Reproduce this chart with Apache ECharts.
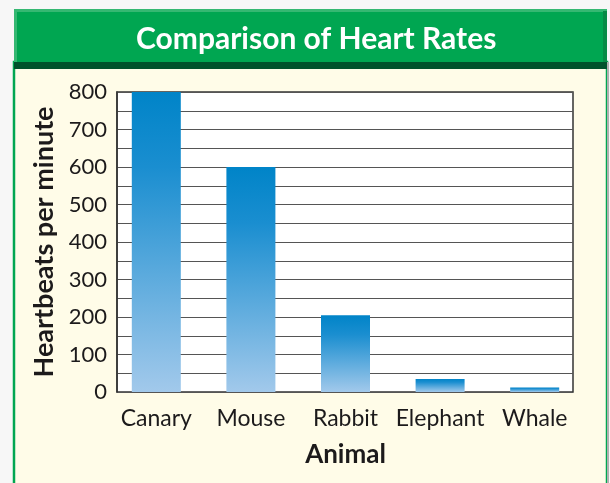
<!DOCTYPE html>
<html>
<head>
<meta charset="utf-8">
<script src="https://cdn.jsdelivr.net/npm/echarts@6/dist/echarts.min.js"></script>
<style>
  html, body { margin: 0; padding: 0; background: #f7f7f7; }
  #chart { width: 610px; height: 483px; }
</style>
</head>
<body>
<div id="chart"></div>
<script>
// chart data
const animals = ['Canary', 'Mouse', 'Rabbit', 'Elephant', 'Whale'];
const heartRates = [800, 600, 205, 35, 12];
const yTicks = [0, 100, 200, 300, 400, 500, 600, 700, 800];

const chart = echarts.init(document.getElementById('chart'));
const font = 'Lato, "Open Sans", sans-serif';
const ink = '#1c1a1b';

// bar fill: dark blue on top fading to light blue at the base
const barFill = new echarts.graphic.LinearGradient(0, 0, 0, 1, [
    { offset: 0, color: '#0084c8' },
    { offset: 0.25, color: '#1a8ed0' },
    { offset: 1, color: '#a2c9eb' }
]);

const option = {
    animation: false,
    backgroundColor: '#f7f7f7',
    title: {
        text: 'Comparison of Heart Rates',
        left: 131,
        top: 19,
        textStyle: { color: '#fff', fontFamily: font, fontWeight: 'bold', fontSize: 30 }
    },
    graphic: [
        // panel body
        { type: 'rect', shape: { x: 14, y: 62, width: 593, height: 430 }, style: { fill: '#fffce8', stroke: '#00a651', lineWidth: 2.5 }, z: -10 },
        { type: 'rect', shape: { x: 607, y: 62, width: 2, height: 430 }, style: { fill: '#b0b0b0' }, z: -10 },
        // header bar
        { type: 'rect', shape: { x: 14, y: 9, width: 593, height: 54 }, style: { fill: '#00a651' }, z: -9 },
        { type: 'rect', shape: { x: 14, y: 9, width: 593, height: 3 }, style: { fill: '#35b872' }, z: -8 },
        { type: 'rect', shape: { x: 14, y: 9, width: 3, height: 54 }, style: { fill: '#35b872' }, z: -8 },
        { type: 'rect', shape: { x: 603, y: 11, width: 4, height: 52 }, style: { fill: '#078a45' }, z: -8 },
        { type: 'rect', shape: { x: 14, y: 62, width: 593, height: 7 }, style: { fill: '#00522b' }, z: -8 }
    ],
    grid: [
        { left: 117, top: 92, width: 456, height: 300, show: true, backgroundColor: '#fff', borderColor: '#333', borderWidth: 1.5 },
        { left: 109, top: 92, width: 473, height: 300 }
    ],
    xAxis: [
        { gridIndex: 0, type: 'category', data: animals, show: false },
        {
            gridIndex: 1,
            type: 'category',
            data: animals,
            axisLine: { show: false },
            axisTick: { show: false },
            axisLabel: { interval: 0, color: ink, fontFamily: font, fontSize: 23, margin: 15 },
            name: 'Animal',
            nameLocation: 'middle',
            nameGap: 50,
            nameTextStyle: { color: ink, fontFamily: font, fontWeight: 'bold', fontSize: 26 }
        }
    ],
    yAxis: [
        {
            gridIndex: 0,
            type: 'value',
            min: 0,
            max: 800,
            interval: 50,
            axisLine: { show: true, lineStyle: { color: '#333', width: 1.5 } },
            axisTick: { show: false },
            axisLabel: {
                color: ink, fontFamily: font, fontSize: 22, margin: 10,
                formatter: v => yTicks.includes(v) ? String(v) : ''
            },
            splitLine: { lineStyle: { color: '#555', width: 1 } },
            name: 'Heartbeats per minute',
            nameLocation: 'middle',
            nameRotate: 90,
            nameGap: 57,
            nameTextStyle: { color: ink, fontFamily: font, fontWeight: 'bold', fontSize: 27 }
        },
        { gridIndex: 1, type: 'value', min: 0, max: 800, show: false }
    ],
    series: [{
        type: 'bar',
        xAxisIndex: 1,
        yAxisIndex: 1,
        data: heartRates,
        barWidth: 49,
        itemStyle: { color: barFill }
    }]
};

chart.setOption(option);
</script>
</body>
</html>
